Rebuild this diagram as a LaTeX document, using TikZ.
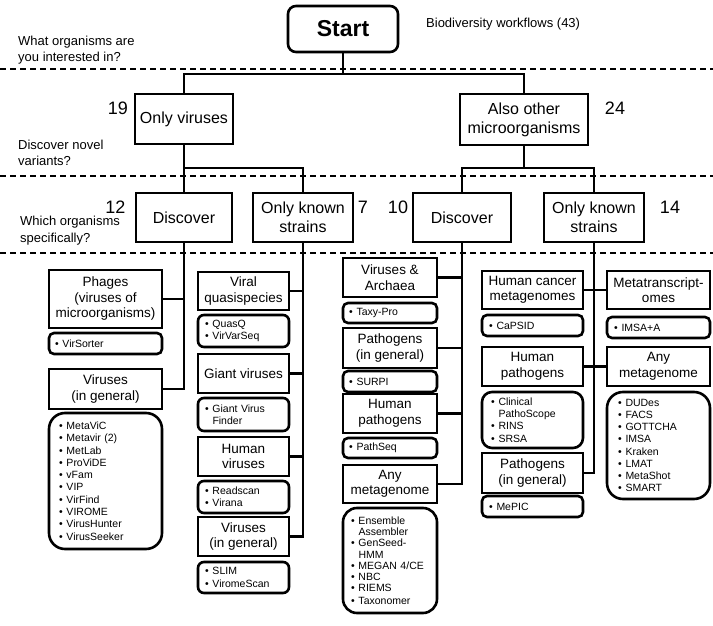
\documentclass[tikz,border=0pt]{standalone}
\usepackage{fontspec}
\setmainfont{Liberation Sans}
\newcommand\itm[1]{\makebox[7.5pt][l]{•}#1}
\newcommand\itc[1]{\hspace*{7.5pt}#1}
\newcommand\bxc[7]{%
  \pgfmathsetmacro\bw{#5-#3}\pgfmathsetmacro\bh{#6-#4}%
  \node[#1, minimum width=\bw pt, minimum height=\bh pt] (#2) at ({(#3+#5)/2},{(#4+#6)/2}) {#7};}
\newcommand\lstc[8]{%
  \pgfmathsetmacro\bw{#4-#2}\pgfmathsetmacro\bh{#5-#3}\pgfmathsetmacro\tw{#4-#2-2*#6}%
  \node[lst, inner xsep=#6pt, rounded corners=#7pt, text width=\tw pt, minimum width=\bw pt, minimum height=\bh pt] (#1) at ({(#2+#4)/2},{(#3+#5)/2}) {\noindent #8};}
\begin{document}
\begin{tikzpicture}[x=1pt,y=-1pt,
  bx/.style={draw, line width=2.6pt, inner sep=0pt, align=center, font=\fontsize{13.5}{15.5}\selectfont},
  topbx/.style={bx, font=\fontsize{16}{19}\selectfont},
  lst/.style={draw, line width=2.6pt, inner ysep=0pt, align=left, font=\fontsize{10.5}{12.3}\selectfont},
  conn/.style={line width=2.6pt},
  dsh/.style={line width=1.4pt, dash pattern=on 6pt off 4pt},
  qtext/.style={anchor=west, align=left, font=\fontsize{13}{16}\selectfont, inner sep=0pt},
  num/.style={font=\fontsize{18}{20}\selectfont, inner sep=0pt}]
\useasboundingbox[fill=white] (0,0) rectangle (713,626);

% dashed separators
\coordinate (d1a) at (0,69);  \coordinate (d1b) at (713,69);
\coordinate (d2a) at (0,176); \coordinate (d2b) at (713,176);
\coordinate (d3a) at (0,253); \coordinate (d3b) at (713,253);
\draw[dsh] (d1a) -- (d1b);
\draw[dsh] (d2a) -- (d2b);
\draw[dsh] (d3a) -- (d3b);

% question labels
\node[qtext] (q1) at (18,50) {What organisms are\\you interested in?};
\node[qtext] (q2) at (18,153) {Discover novel\\variants?};
\node[qtext, font=\fontsize{13}{17}\selectfont] (q3) at (20,231) {Which organisms\\specifically?};
\node[qtext] (bio) at (426,24) {Biodiversity workflows (43)};

% numbers
\node[num] (n19) at (118,108) {19};
\node[num] (n24) at (615,108) {24};
\node[num] (n12) at (115.5,207) {12};
\node[num] (n7) at (363,207) {7};
\node[num] (n10) at (398,207) {10};
\node[num] (n14) at (670,207) {14};

% top levels
\bxc{topbx, rounded corners=8pt, font=\bfseries\fontsize{23}{26}\selectfont}{start}{288}{6}{398}{52}{Start}
\bxc{topbx}{onlyv}{135}{94}{233}{144}{Only viruses}
\bxc{topbx}{alsoo}{460}{94}{588}{145}{Also other\\microorganisms}
\bxc{topbx}{disc1}{136}{193}{232}{242}{Discover}
\bxc{topbx}{known1}{253}{193}{353}{242}{Only known\\strains}
\bxc{topbx}{disc2}{413}{193}{511}{242}{Discover}
\bxc{topbx}{known2}{544}{193}{644}{242}{Only known\\strains}

% column 1
\bxc{bx}{phages}{49}{270}{162}{328}{Phages\\(viruses of\\microorganisms)}
\lstc{lvs}{49}{333}{162}{354}{6}{5}{\itm{VirSorter}}
\bxc{bx}{vir1}{49}{369}{162}{409}{Viruses\\(in general)}
\lstc{lmv}{49}{413}{162}{549}{10}{16}{\itm{MetaViC}\\\itm{Metavir (2)}\\\itm{MetLab}\\\itm{ProViDE}\\\itm{vFam}\\\itm{VIP}\\\itm{VirFind}\\\itm{VIROME}\\\itm{VirusHunter}\\\itm{VirusSeeker}}

% column 2
\bxc{bx}{vq}{198}{272}{289}{310}{Viral\\quasispecies}
\lstc{lqq}{198}{315}{289}{347}{7}{6}{\itm{QuasQ}\\\itm{VirVarSeq}}
\bxc{bx}{giant}{198}{354}{289}{393}{Giant viruses}
\lstc{lgv}{198}{398}{289}{431}{7}{6}{\itm{Giant Virus}\\\itc{Finder}}
\bxc{bx}{humv}{198}{437}{289}{476}{Human\\viruses}
\lstc{lrs}{198}{481}{289}{513}{7}{6}{\itm{Readscan}\\\itm{Virana}}
\bxc{bx}{vir2}{198}{517}{289}{556}{Viruses\\(in general)}
\lstc{lsl}{198}{562}{289}{593}{7}{6}{\itm{SLIM}\\\itm{ViromeScan}}

% column 3
\bxc{bx}{va}{343}{258}{437}{297}{Viruses \&\\Archaea}
\lstc{ltp}{343}{303}{437}{323}{6}{5}{\itm{Taxy-Pro}}
\bxc{bx}{pg3}{343}{328}{437}{368}{Pathogens\\(in general)}
\lstc{lsu}{343}{371}{437}{392}{6}{5}{\itm{SURPI}}
\bxc{bx}{hp3}{343}{394}{437}{433}{Human\\pathogens}
\lstc{lps}{343}{438}{437}{458}{6}{5}{\itm{PathSeq}}
\bxc{bx}{am3}{343}{465}{437}{503}{Any\\metagenome}
\lstc{lens}{343}{508}{437}{613}{8}{14}{\fontsize{10.5}{11.2}\selectfont\itm{Ensemble}\\\itc{Assembler}\\\itm{GenSeed-}\\\itc{HMM}\\\itm{MEGAN 4/CE}\\\itm{NBC}\\\itm{RIEMS}\\\itm{Taxonomer}}

% column 4
\bxc{bx}{hcm}{482}{271}{583}{309}{Human cancer\\metagenomes}
\bxc{bx}{mtr}{607}{271}{710}{309}{Metatranscript-\\omes}
\lstc{lcap}{482}{315}{583}{336}{7}{5}{\itm{CaPSID}}
\lstc{lima}{607}{317}{710}{338}{7}{5}{\itm{IMSA+A}}
\bxc{bx}{hp4}{482}{347}{583}{386}{Human\\pathogens}
\bxc{bx}{am4}{607}{347}{710}{386}{Any\\metagenome}
\lstc{lcl}{482}{392}{583}{448}{9}{10}{\fontsize{10.5}{12.1}\selectfont\itm{Clinical}\\\itc{PathoScope}\\\itm{RINS}\\\itm{SRSA}}
\lstc{ldu}{607}{392}{710}{499}{11}{16}{\fontsize{10.5}{12.1}\selectfont\itm{DUDes}\\\itm{FACS}\\\itm{GOTTCHA}\\\itm{IMSA}\\\itm{Kraken}\\\itm{LMAT}\\\itm{MetaShot}\\\itm{SMART}}
\bxc{bx}{pg4}{482}{453}{583}{493}{Pathogens\\(in general)}
\lstc{lmp}{482}{496}{583}{517}{7}{5}{\itm{MePIC}}

% connectors, top
\coordinate (j1) at (343,74);
\coordinate (j2) at (184,168);
\coordinate (j3) at (524,168);
\draw[conn] (start.south) -- (j1);
\draw[conn] (onlyv.north) |- (j1) -| (alsoo.north);
\draw[conn] (onlyv.south) -- (disc1.north);
\draw[conn] (j2) -| (known1.north);
\draw[conn] (alsoo.south) -- (j3);
\draw[conn] (disc2.north) |- (j3) -| (known2.north);

% column 1
\draw[conn] (disc1.south) |- (vir1.east);
\draw[conn] (phages.east) -- (phages.east -| disc1.south);
% column 2
\draw[conn] (known1.south) |- (vir2.east);
\draw[conn] (vq.east) -- (vq.east -| known1.south);
\draw[conn] (giant.east) -- (giant.east -| known1.south);
\draw[conn] (humv.east) -- (humv.east -| known1.south);
% column 3
\draw[conn] (disc2.south) |- (am3.east);
\draw[conn] (va.east) -- (va.east -| disc2.south);
\draw[conn] (pg3.east) -- (pg3.east -| disc2.south);
\draw[conn] (hp3.east) -- (hp3.east -| disc2.south);
% column 4
\draw[conn] (known2.south) |- (pg4.east);
\draw[conn] (hcm.east) -- (mtr.west);
\draw[conn] (hp4.east) -- (am4.west);
\end{tikzpicture}
\end{document}
